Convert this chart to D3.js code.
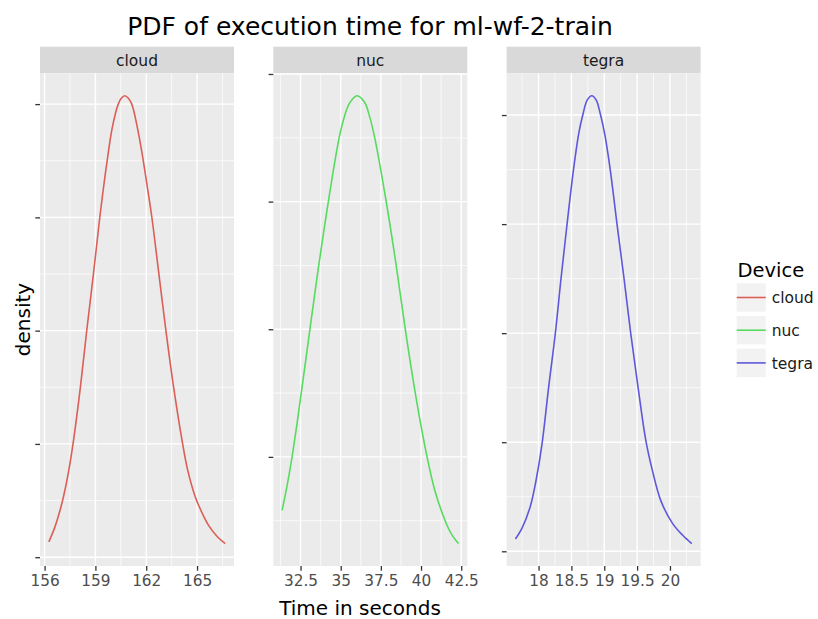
<!DOCTYPE html>
<html>
<head>
<meta charset="utf-8">
<script src="https://cdn.jsdelivr.net/npm/d3@7"></script>
<style>
  body { margin: 0; background: #ffffff; }
  svg { display: block; font-family: "DejaVu Sans", sans-serif; }
</style>
</head>
<body>
<svg id="chart" width="818" height="619"></svg>
<script>
// Facet order and colours
const devices = ["cloud", "nuc", "tegra"];
const deviceColors = ["#DB5F57", "#57DB5F", "#5F57DB"];

// Estimated density curve of the execution time, one series per device
const cloudTime = [156.25, 156.592, 156.888, 157.125, 157.421, 157.717, 158.112, 158.487, 158.881, 159.256,
  159.493, 159.750, 159.987, 160.342, 160.539, 160.737, 160.934, 161.151, 161.506, 161.783,
  162.079, 162.335, 162.750, 163.164, 163.618, 164.151, 164.447, 164.901, 165.300, 165.700,
  166.200, 166.660];
const cloudDensity = [0.00677, 0.01295, 0.02002, 0.02700, 0.03800, 0.05200, 0.07492, 0.09994, 0.12482, 0.14984,
  0.16400, 0.17800, 0.18930, 0.19988, 0.20268, 0.20371, 0.20268, 0.19988, 0.18855, 0.17690,
  0.16270, 0.14984, 0.12482, 0.09994, 0.07492, 0.04990, 0.03842, 0.02650, 0.01950, 0.01380,
  0.00900, 0.00600];

const nucTime = [31.354, 31.667, 31.979, 32.250, 32.521, 33.083, 33.604, 34.229, 34.896, 35.229,
  35.542, 36.021, 36.479, 36.792, 37.125, 37.833, 38.458, 39.021, 39.646, 40.375,
  40.854, 41.500, 41.896, 42.330];
const nucDensity = [0.02328, 0.03110, 0.04015, 0.04936, 0.05912, 0.07993, 0.09900, 0.11996, 0.13982, 0.14661,
  0.15079, 0.15320, 0.15121, 0.14680, 0.13982, 0.11996, 0.09989, 0.07993, 0.05986, 0.04000,
  0.02955, 0.02000, 0.01580, 0.01282];

const tegraTime = [17.648, 17.745, 17.872, 17.959, 18.051, 18.153, 18.255, 18.342, 18.434, 18.531,
  18.612, 18.673, 18.740, 18.811, 18.878, 18.944, 19.010, 19.092, 19.194, 19.301,
  19.403, 19.515, 19.633, 19.735, 19.862, 20.041, 20.194, 20.332];
const tegraDensity = [0.0226, 0.0416, 0.0813, 0.1280, 0.1950, 0.3003, 0.3994, 0.5003, 0.6000, 0.6991,
  0.7664, 0.8000, 0.8275, 0.8355, 0.8275, 0.8000, 0.7633, 0.6991, 0.6000, 0.5003,
  0.3994, 0.3003, 0.2030, 0.1470, 0.0924, 0.0508, 0.0294, 0.0141];

// Axis breaks per facet (x labelled, y unlabelled)
const cloudXTicks = [156, 159, 162, 165];
const nucXTicks = [32.5, 35, 37.5, 40, 42.5];
const tegraXTicks = [18, 18.5, 19, 19.5, 20];
const cloudXTickLabels = ["156", "159", "162", "165"];
const nucXTickLabels = ["32.5", "35", "37.5", "40", "42.5"];
const tegraXTickLabels = ["18", "18.5", "19", "19.5", "20"];
const cloudYTicks = [0, 0.05, 0.10, 0.15, 0.20];
const nucYTicks = [0.04, 0.08, 0.12, 0.16];
const tegraYTicks = [0, 0.2, 0.4, 0.6, 0.8];

const titleText = "PDF of execution time for ml-wf-2-train";
const xTitle = "Time in seconds";
const yTitle = "density";
const legendTitle = "Device";

// ---- layout ----
const svg = d3.select("#chart");
const panelLeft = 40, panelW = 194, panelGap = 39.3;
const stripTop = 46.7, stripH = 26.6;
const plotTop = stripTop + stripH, plotBottom = 566;

const facets = [
  { name: devices[0], color: deviceColors[0], x: cloudTime, y: cloudDensity, xt: cloudXTicks, xl: cloudXTickLabels, yt: cloudYTicks },
  { name: devices[1], color: deviceColors[1], x: nucTime, y: nucDensity, xt: nucXTicks, xl: nucXTickLabels, yt: nucYTicks },
  { name: devices[2], color: deviceColors[2], x: tegraTime, y: tegraDensity, xt: tegraXTicks, xl: tegraXTickLabels, yt: tegraYTicks }
];

// 5% padding on each side of the data range, as in ggplot's continuous scales
function padded(vals) {
  const [lo, hi] = d3.extent(vals);
  const p = (hi - lo) * 0.05;
  return [lo - p, hi + p];
}
function minorBreaks(major, domain) {
  const step = major[1] - major[0];
  const out = [];
  for (let v = major[0] - step / 2; v <= domain[1] + 1e-9; v += step) {
    if (v >= domain[0]) out.push(+v.toFixed(6));
  }
  return out;
}

facets.forEach((f, i) => {
  const x0 = panelLeft + i * (panelW + panelGap);
  const xDom = padded(f.x), yDom = padded(f.y);
  const xs = d3.scaleLinear().domain(xDom).range([x0, x0 + panelW]);
  const ys = d3.scaleLinear().domain(yDom).range([plotBottom, plotTop]);
  const g = svg.append("g");

  // strip
  g.append("rect").attr("x", x0).attr("y", stripTop).attr("width", panelW).attr("height", stripH)
    .attr("fill", "#D9D9D9");
  g.append("text").attr("x", x0 + panelW / 2).attr("y", stripTop + 19.3)
    .attr("text-anchor", "middle").attr("font-size", "15.5px").attr("fill", "#1A1A1A").text(f.name);

  // panel background
  g.append("rect").attr("x", x0).attr("y", plotTop).attr("width", panelW).attr("height", plotBottom - plotTop)
    .attr("fill", "#EBEBEB");

  // minor grid
  const mx = minorBreaks(f.xt, xDom), my = minorBreaks(f.yt, yDom);
  g.selectAll(null).data(mx).join("line")
    .attr("x1", d => xs(d)).attr("x2", d => xs(d)).attr("y1", plotTop).attr("y2", plotBottom)
    .attr("stroke", "#ffffff").attr("stroke-width", 0.7);
  g.selectAll(null).data(my).join("line")
    .attr("y1", d => ys(d)).attr("y2", d => ys(d)).attr("x1", x0).attr("x2", x0 + panelW)
    .attr("stroke", "#ffffff").attr("stroke-width", 0.7);
  // major grid
  g.selectAll(null).data(f.xt).join("line")
    .attr("x1", d => xs(d)).attr("x2", d => xs(d)).attr("y1", plotTop).attr("y2", plotBottom)
    .attr("stroke", "#ffffff").attr("stroke-width", 1.4);
  g.selectAll(null).data(f.yt).join("line")
    .attr("y1", d => ys(d)).attr("y2", d => ys(d)).attr("x1", x0).attr("x2", x0 + panelW)
    .attr("stroke", "#ffffff").attr("stroke-width", 1.4);

  // density curve
  const pts = f.x.map((v, k) => [v, f.y[k]]);
  g.append("path").datum(pts)
    .attr("d", d3.line().x(d => xs(d[0])).y(d => ys(d[1])).curve(d3.curveCatmullRom.alpha(0.5)))
    .attr("fill", "none").attr("stroke", f.color).attr("stroke-width", 1.6);

  // x axis
  const xAxis = d3.axisBottom(xs).tickValues(f.xt).tickSize(4.7).tickPadding(4)
    .tickFormat((d, k) => f.xl[k]);
  const xa = g.append("g").attr("transform", `translate(0,${plotBottom})`).call(xAxis);
  xa.select(".domain").remove();
  xa.selectAll(".tick line").attr("stroke", "#333333").attr("stroke-width", 1.3);
  xa.selectAll(".tick text").attr("fill", "#4D4D4D").attr("font-size", "15.3px")
    .attr("font-family", "DejaVu Sans, sans-serif");

  // y axis: ticks without labels
  const yAxis = d3.axisLeft(ys).tickValues(f.yt).tickSize(4.7).tickFormat("");
  const ya = g.append("g").attr("transform", `translate(${x0},0)`).call(yAxis);
  ya.select(".domain").remove();
  ya.selectAll(".tick line").attr("stroke", "#333333").attr("stroke-width", 1.3);
});

// titles
svg.append("text").attr("x", 370).attr("y", 35).attr("text-anchor", "middle")
  .attr("font-size", "25px").attr("fill", "#000000").text(titleText);
svg.append("text").attr("x", 360).attr("y", 615).attr("text-anchor", "middle")
  .attr("font-size", "20px").attr("fill", "#000000").text(xTitle);
svg.append("text").attr("transform", "translate(29.5,319.5) rotate(-90)").attr("text-anchor", "middle")
  .attr("font-size", "20px").attr("fill", "#000000").text(yTitle);

// legend
const lg = svg.append("g");
lg.append("text").attr("x", 737.5).attr("y", 276.7).attr("font-size", "19.5px").attr("fill", "#000000")
  .text(legendTitle);
const keyX = 736.7, keyW = 29, keyH = 28.4, keyTop = 283.3, keyStep = 32.7;
devices.forEach((d, i) => {
  const y = keyTop + i * keyStep;
  lg.append("rect").attr("x", keyX).attr("y", y).attr("width", keyW).attr("height", keyH).attr("fill", "#F2F2F2");
  lg.append("line").attr("x1", keyX).attr("x2", keyX + keyW).attr("y1", y + keyH / 2).attr("y2", y + keyH / 2)
    .attr("stroke", deviceColors[i]).attr("stroke-width", 1.6);
  lg.append("text").attr("x", 771.7).attr("y", y + keyH / 2 + 5.6).attr("font-size", "15.5px")
    .attr("fill", "#1A1A1A").text(d);
});
</script>
</body>
</html>
